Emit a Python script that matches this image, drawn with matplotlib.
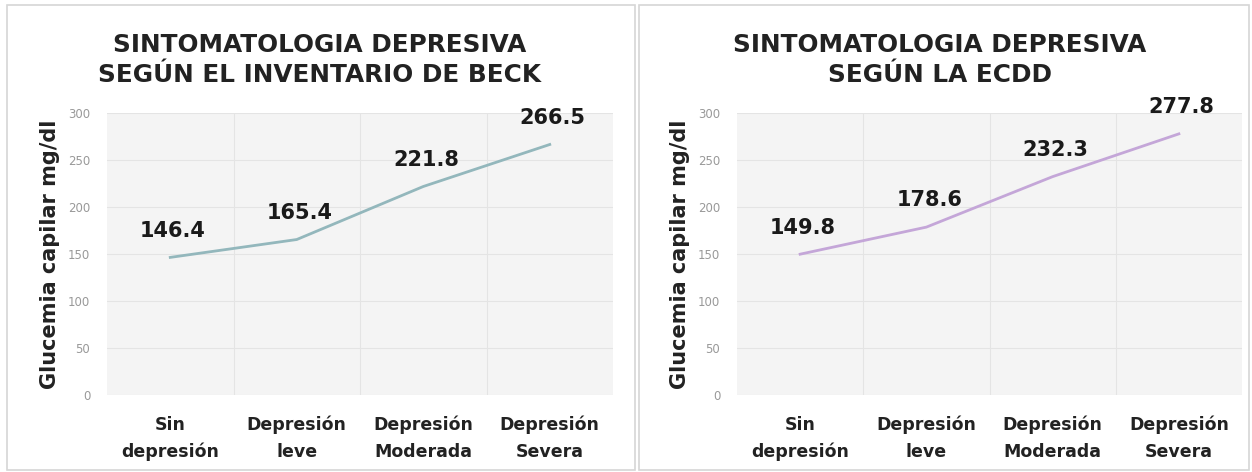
import matplotlib
matplotlib.use('Agg')
import matplotlib.pyplot as plt
from matplotlib.patches import Rectangle

categorias = ['Sin\ndepresión', 'Depresión\nleve', 'Depresión\nModerada', 'Depresión\nSevera']
beck = [146.4, 165.4, 221.8, 266.5]
ecdd = [149.8, 178.6, 232.3, 277.8]
titulos = ['SINTOMATOLOGIA DEPRESIVA\nSEGÚN EL INVENTARIO DE BECK',
           'SINTOMATOLOGIA DEPRESIVA\nSEGÚN LA ECDD']
y_ticks = [0, 50, 100, 150, 200, 250, 300]

plt.rcParams['font.family'] = ['DejaVu Sans']

W, H = 1252, 472
fig = plt.figure(figsize=(W / 100, H / 100), dpi=100)

# paneles con borde gris
for x0, x1 in [(7, 635), (639, 1249)]:
    fig.patches.append(Rectangle((x0 / W, 1 - 470 / H), (x1 - x0) / W, 465 / H,
                                 transform=fig.transFigure, fill=False,
                                 edgecolor='#d6d6d6', linewidth=1.2))

ejes = [(107, 613, 320), (737, 1242, 940)]
series = [(beck, '#93b7bc'), (ecdd, '#c4a6d8')]

for (xl, xr, xt), (vals, color), titulo in zip(ejes, series, titulos):
    ax = fig.add_axes([xl / W, 1 - 395 / H, (xr - xl) / W, (395 - 113) / H])
    ax.set_facecolor('#f4f4f4')
    x = range(len(categorias))
    ax.plot(x, vals, color=color, linewidth=2)
    for xi, v in zip(x, vals):
        ax.annotate(f'{v:.1f}', (xi, v), xytext=(2, 12), textcoords='offset points',
                    ha='center', va='bottom', fontsize=15, fontweight='bold', color='#1a1a1a')
    ax.set_xlim(-0.5, 3.5)
    ax.set_ylim(0, 300)
    ax.set_yticks(y_ticks)
    ax.set_xticks(list(x))
    ax.set_xticklabels(categorias, fontsize=12.5, fontweight='bold', color='#222222',
                       linespacing=1.6)
    ax.set_xticks([0.5, 1.5, 2.5], minor=True)
    ax.tick_params(axis='y', labelsize=8.5, labelcolor='#999999', length=0, pad=12)
    ax.tick_params(axis='x', which='both', length=0, pad=15)
    ax.grid(axis='y', color='#e4e4e4', linewidth=0.8)
    ax.grid(axis='x', which='minor', color='#e4e4e4', linewidth=0.8)
    for s in ax.spines.values():
        s.set_visible(False)
    ax.set_ylabel('Glucemia capilar mg/dl', fontsize=15, fontweight='bold',
                  color='#222222', labelpad=6)
    fig.text(xt / W, 1 - 60 / H, titulo, ha='center', va='center', fontsize=17.8,
             fontweight='bold', color='#222222', linespacing=1.3)

fig.savefig('out.png', dpi=100)
